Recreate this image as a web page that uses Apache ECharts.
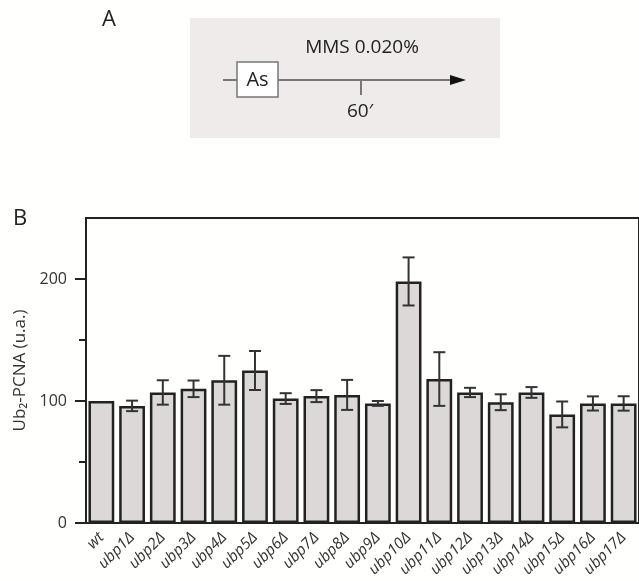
<!DOCTYPE html>
<html>
<head>
<meta charset="utf-8">
<script src="https://cdn.jsdelivr.net/npm/echarts@6/dist/echarts.min.js"></script>
<style>
  html, body { margin: 0; padding: 0; background: #fffffd; }
  #main { width: 639px; height: 581px; }
</style>
</head>
<body>
<div id="main"></div>
<script>
var categories = ['wt', 'ubp1Δ', 'ubp2Δ', 'ubp3Δ', 'ubp4Δ', 'ubp5Δ', 'ubp6Δ', 'ubp7Δ', 'ubp8Δ',
    'ubp9Δ', 'ubp10Δ', 'ubp11Δ', 'ubp12Δ', 'ubp13Δ', 'ubp14Δ', 'ubp15Δ', 'ubp16Δ', 'ubp17Δ'];
var values = [100, 96, 107, 110, 117, 125, 102, 104, 105, 98, 198, 118, 107, 99, 107, 89, 98, 98];
var errors = [0, 4.3, 10, 6.8, 20, 16, 4.4, 4.9, 12.3, 2, 19.7, 22, 3.8, 6.5, 4.4, 10.6, 5.8, 5.9];
var yTicks = [0, 100, 200];
var yMinorTicks = [50, 150];
var yMax = 250;

var font = 'Open Sans';
var chart = echarts.init(document.getElementById('main'));

var errData = categories.map(function(c, i) {
    return [i, values[i] + errors[i], values[i] - errors[i], errors[i]];
});

var option = {
    backgroundColor: '#fffffd',
    animation: false,
    textStyle: { fontFamily: font },
    grid: {
        left: 86, right: -6, top: 218, bottom: 58,
        show: true, borderColor: '#222', borderWidth: 2, backgroundColor: 'transparent'
    },
    xAxis: {
        type: 'category',
        data: categories,
        boundaryGap: true,
        axisLine: { lineStyle: { color: '#222', width: 2 } },
        axisTick: { length: 10, lineStyle: { color: '#222', width: 2 } },
        axisLabel: {
            rotate: 45, margin: 12, interval: 0,
            fontSize: 15.5, fontStyle: 'italic', color: '#333', fontFamily: font
        }
    },
    yAxis: [{
        type: 'value',
        min: 0, max: yMax,
        position: 'left',
        name: 'Ub₂-PCNA (u.a.)',
        nameLocation: 'middle',
        nameRotate: 90,
        nameGap: 56,
        nameTextStyle: { fontSize: 17, color: '#333', fontFamily: font },
        splitLine: { show: false },
        axisLine: { show: true, lineStyle: { color: '#222', width: 2 } },
        axisTick: { show: true, length: 11, customValues: yTicks, lineStyle: { color: '#222', width: 2 } },
        axisLabel: { customValues: yTicks, margin: 19, fontSize: 16, color: '#333', fontFamily: font }
    }, {
        type: 'value',
        min: 0, max: yMax,
        position: 'left',
        splitLine: { show: false },
        axisLine: { show: false },
        axisTick: { show: true, length: 7, customValues: yMinorTicks, lineStyle: { color: '#222', width: 2 } },
        axisLabel: { show: false }
    }],
    series: [{
        type: 'bar',
        data: values,
        barCategoryGap: '16%',
        itemStyle: { color: '#dcd8d8', borderColor: '#222', borderWidth: 2.5 }
    }, {
        type: 'custom',
        data: errData,
        z: 10,
        renderItem: function(params, api) {
            if (api.value(3) === 0) return null;
            var top = api.coord([api.value(0), api.value(1)]);
            var bot = api.coord([api.value(0), api.value(2)]);
            var hw = 6;
            var st = { stroke: '#333', lineWidth: 2 };
            return {
                type: 'group',
                children: [
                    { type: 'line', shape: { x1: top[0], y1: top[1], x2: bot[0], y2: bot[1] }, style: st },
                    { type: 'line', shape: { x1: top[0] - hw, y1: top[1], x2: top[0] + hw, y2: top[1] }, style: st },
                    { type: 'line', shape: { x1: bot[0] - hw, y1: bot[1], x2: bot[0] + hw, y2: bot[1] }, style: st }
                ]
            };
        }
    }],
    graphic: [
        // panel labels
        { type: 'text', left: 102, top: 9, style: { text: 'A', fontSize: 22, fill: '#222', fontFamily: font } },
        { type: 'text', left: 13, top: 208, style: { text: 'B', fontSize: 22, fill: '#222', fontFamily: font } },
        // scheme of panel A
        { type: 'rect', shape: { x: 190, y: 18, width: 310, height: 120 }, style: { fill: '#efebea' } },
        { type: 'line', shape: { x1: 223, y1: 80, x2: 455, y2: 80 }, style: { stroke: '#777', lineWidth: 2 } },
        { type: 'polygon', shape: { points: [[450, 75], [466, 80], [450, 85]] }, style: { fill: '#111' } },
        { type: 'rect', shape: { x: 237, y: 62, width: 41, height: 35 }, style: { fill: '#fff', stroke: '#777', lineWidth: 1.5 } },
        { type: 'text', x: 257.5, y: 80, style: { text: 'As', fontSize: 20, fill: '#222', fontFamily: font, align: 'center', verticalAlign: 'middle' } },
        { type: 'text', x: 362, y: 48, style: { text: 'MMS 0.020%', fontSize: 19, fill: '#222', fontFamily: font, align: 'center', verticalAlign: 'middle' } },
        { type: 'line', shape: { x1: 361, y1: 80, x2: 361, y2: 95 }, style: { stroke: '#777', lineWidth: 2 } },
        { type: 'text', x: 360, y: 112, style: { text: '60′', fontSize: 19, fill: '#222', fontFamily: font, align: 'center', verticalAlign: 'middle' } }
    ]
};
chart.setOption(option);
</script>
</body>
</html>
